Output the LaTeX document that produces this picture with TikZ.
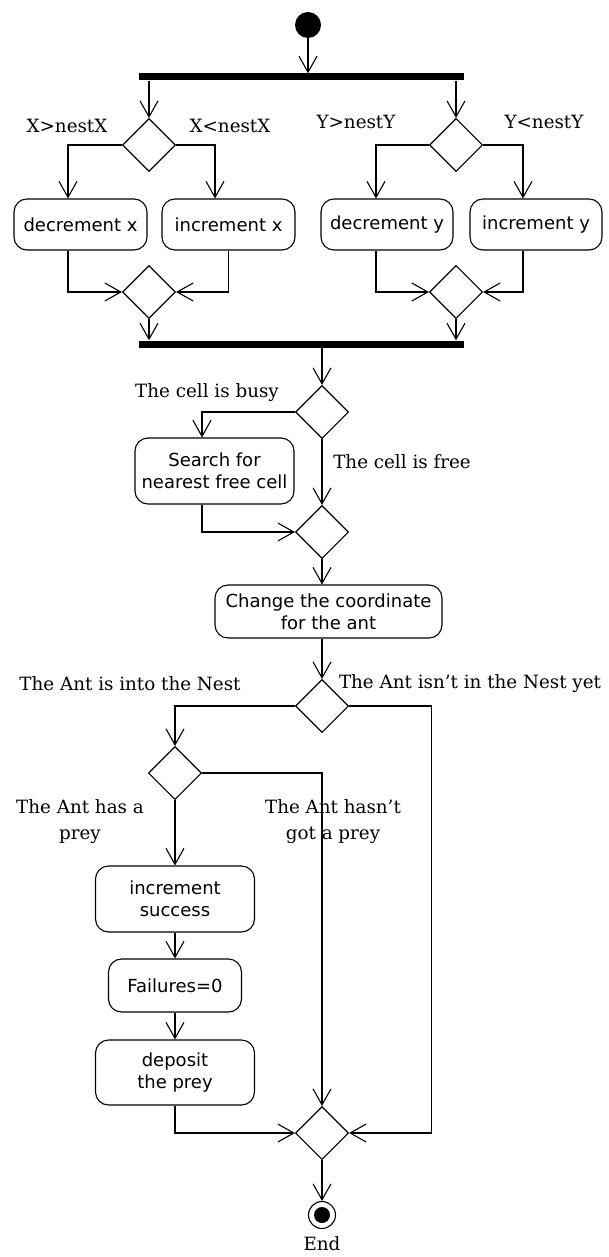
\documentclass[tikz,border=0pt]{standalone}
\usepackage{fontspec}
\setmainfont{DejaVu Serif}
\setsansfont{DejaVu Sans}
\usetikzlibrary{shapes.geometric,arrows.meta}
\begin{document}
\begin{tikzpicture}[x=1pt,y=-1pt,
  flow/.style={line width=1.1pt, -{Straight Barb[length=16pt,width=18pt]}},
  act/.style={draw, line width=1.1pt, rounded corners=13pt, align=center, inner sep=0pt,
    font=\sffamily\fontsize{18}{22}\selectfont},
  choice/.style={draw, diamond, line width=1.1pt, minimum width=53pt, minimum height=53pt, inner sep=0pt},
  bar/.style={fill=black, inner sep=0pt, minimum height=7pt},
  guard/.style={inner sep=0pt, anchor=base, align=center, font=\fontsize{18.3}{26}\selectfont},
]
\useasboundingbox (0,0) rectangle (608,1257);

% initial node and fork
\node[circle, fill=black, minimum size=26pt, inner sep=0pt] (start) at (308,25) {};
\node[bar, minimum width=325pt] (fork1) at (301.5,77) {};

% x branch
\node[choice] (dx) at (149,145) {};
\node[act, minimum width=133pt, minimum height=51pt] (decx) at (80.5,224.5) {decrement x};
\node[act, minimum width=133pt, minimum height=51pt] (incx) at (228.5,224.5) {increment x};
\node[choice] (mx) at (149,292) {};

% y branch
\node[choice] (dy) at (456,145) {};
\node[act, minimum width=132pt, minimum height=51pt] (decy) at (387,224.5) {decrement y};
\node[act, minimum width=132pt, minimum height=51pt] (incy) at (536,224.5) {increment y};
\node[choice] (my) at (456,292) {};

% join
\node[bar, minimum width=325pt] (fork2) at (301.5,344) {};

% free cell check
\node[choice] (cell) at (322,412) {};
\node[act, minimum width=159pt, minimum height=66pt] (search) at (214.5,471) {Search for\\nearest free cell};
\node[choice] (merge) at (322,532) {};
\node[act, minimum width=227pt, minimum height=53pt] (change) at (328.5,611.5) {Change the coordinate\\for the ant};

% nest check
\node[choice] (nest) at (322,706) {};
\node[choice] (prey) at (175,773) {};
\node[act, minimum width=159pt, minimum height=66pt] (incs) at (175,899) {increment\\success};
\node[act, minimum width=133pt, minimum height=53pt] (fail) at (175,985.5) {Failures=0};
\node[act, minimum width=159pt, minimum height=65pt] (dep) at (175,1072.5) {deposit\\the prey};
\node[choice] (fin) at (322,1133) {};

% final node
\node[circle, draw, line width=1.1pt, minimum size=27pt, inner sep=0pt] (end) at (322,1215) {};
\node[circle, fill=black, minimum size=16pt, inner sep=0pt] (endin) at (end) {};
\node[guard] (endlbl) at (322,1250) {End};

% guards
\node[guard] (gx1) at (67,133) {X>nestX};
\node[guard] (gx2) at (230,133) {X<nestX};
\node[guard] (gy1) at (356,129) {Y>nestY};
\node[guard] (gy2) at (544,129) {Y<nestY};
\node[guard] (gbusy) at (207,397) {The cell is busy};
\node[guard] (gfree) at (402,468) {The cell is free};
\node[guard] (gin) at (130,690) {The Ant is into the Nest};
\node[guard] (gout) at (470,688) {The Ant isn't in the Nest yet};
\node[guard] (ghas) at (80,839) {The Ant has a\\prey};
\node[guard] (gnot) at (333,839) {The Ant hasn't\\got a prey};

% connectors
\draw[flow] (start.south) -- (start |- fork1.north);
\draw[flow] (dx |- fork1.south) -- (dx.north);
\draw[flow] (dx.west) -| ([xshift=-12.5pt]decx.north);
\draw[flow] (dx.east) -| ([xshift=-13.5pt]incx.north);
\draw[flow] ([xshift=-12.5pt]decx.south) |- (mx.west);
\draw[flow] (incx.south) |- (mx.east);
\draw[flow] (mx.south) -- (mx |- fork2.north);

\draw[flow] (dy |- fork1.south) -- (dy.north);
\draw[flow] (dy.west) -| ([xshift=-11pt]decy.north);
\draw[flow] (dy.east) -| ([xshift=-13pt]incy.north);
\draw[flow] ([xshift=-11pt]decy.south) |- (my.west);
\draw[flow] ([xshift=-13pt]incy.south) |- (my.east);
\draw[flow] (my.south) -- (my |- fork2.north);

\draw[flow] (cell |- fork2.south) -- (cell.north);
\draw[flow] (cell.west) -| ([xshift=-12.5pt]search.north);
\draw[flow] (cell.south) -- (merge.north);
\draw[flow] ([xshift=-12.5pt]search.south) |- (merge.west);
\draw[flow] (merge.south) -- (merge |- change.north);

\draw[flow] (change.south -| nest) -- (nest.north);
\draw[flow] (nest.west) -| (prey.north);
\draw[flow] (nest.east) -| ([xshift=82pt]fin.east) -- (fin.east);
\draw[flow] (prey.east) -| (fin.north);
\draw[flow] (prey.south) -- (incs.north);
\draw[flow] (incs.south) -- (fail.north);
\draw[flow] (fail.south) -- (dep.north);
\draw[flow] (dep.south) |- (fin.west);
\draw[flow] (fin.south) -- (end.north);
\end{tikzpicture}
\end{document}
